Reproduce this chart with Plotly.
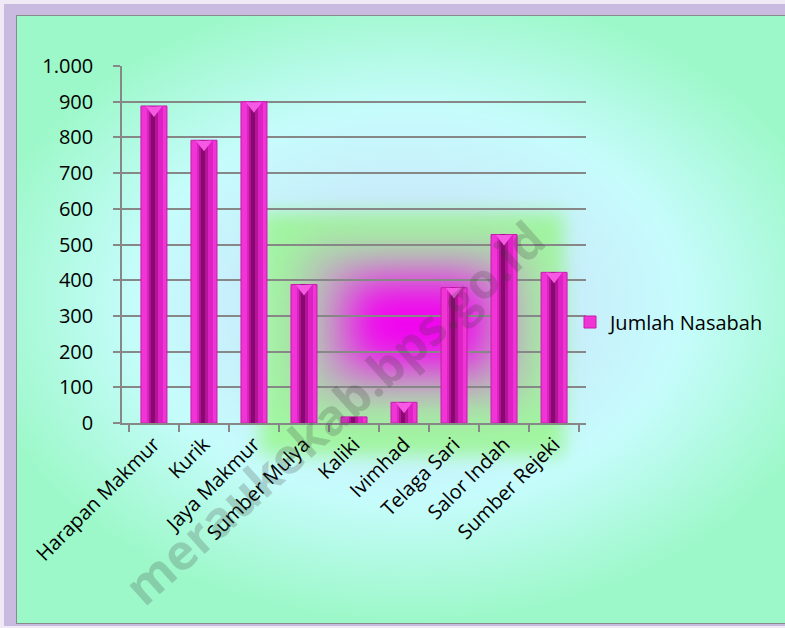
import base64
import plotly.graph_objects as go

# ---- data ----
categories = ["Harapan Makmur", "Kurik", "Jaya Makmur", "Sumber Mulya", "Kaliki",
              "Ivimhad", "Telaga Sari", "Salor Indah", "Sumber Rejeki"]
jumlah_nasabah = [888, 792, 900, 388, 17, 58, 379, 528, 422]
series_name = "Jumlah Nasabah"
y_ticks = [0, 100, 200, 300, 400, 500, 600, 700, 800, 900, 1000]
watermark = "meraukekab.bps.go.id"

# ---- geometry ----
W, H = 785, 628
ML, MR, MT, MB = 122, 199, 66, 205
PW, PH = W - ML - MR, H - MT - MB


def px_x(px):
    return (px - ML) / PW


def px_y(py):
    return (H - MB - py) / PH


# ---- background (chart area gradients) ----
svg = f'''<svg xmlns="http://www.w3.org/2000/svg" width="{W}" height="{H}" viewBox="0 0 {W} {H}">
<defs>
<radialGradient id="bg" cx="410" cy="305" r="440" gradientUnits="userSpaceOnUse"
 gradientTransform="translate(410 305) scale(1 0.72) translate(-410 -305)">
<stop offset="0" stop-color="#c9e6fa"/>
<stop offset="0.35" stop-color="#c8ecfb"/>
<stop offset="0.62" stop-color="#c6fcfc"/>
<stop offset="1" stop-color="#9cf8c8"/>
</radialGradient>
<filter id="b1" x="-50%" y="-50%" width="200%" height="200%"><feGaussianBlur stdDeviation="9"/></filter>
<filter id="b2" x="-50%" y="-50%" width="200%" height="200%"><feGaussianBlur stdDeviation="24"/></filter>
<filter id="b3" x="-50%" y="-50%" width="200%" height="200%"><feGaussianBlur stdDeviation="22"/></filter>
</defs>
<rect width="{W}" height="{H}" fill="#efeaf6"/>
<rect x="4" y="4" width="{W-4}" height="{H-6}" fill="#c9bae0"/>
<rect x="16" y="15" width="{W-16}" height="{H-19}" fill="#8a8a8a"/>
<rect x="17" y="16" width="{W-17}" height="{H-21}" fill="url(#bg)"/>
<rect x="260" y="212" width="304" height="244" fill="#a0f7a0" filter="url(#b1)"/>
<rect x="305" y="250" width="220" height="150" fill="#c4a0c4" filter="url(#b2)" opacity="0.9"/>
<rect x="350" y="282" width="135" height="84" fill="#f200f0" filter="url(#b3)"/>
</svg>'''
bg_uri = "data:image/svg+xml;base64," + base64.b64encode(svg.encode()).decode()

fig = go.Figure()

# bar body layers
fig.add_trace(go.Bar(x=categories, y=jumlah_nasabah, name=series_name, width=0.52,
                     marker=dict(color="#f034d6", line=dict(color="#c41ea8", width=1)),
                     showlegend=True))
fig.add_trace(go.Bar(x=categories, y=jumlah_nasabah, width=0.32, offset=-0.14,
                     marker=dict(color="#dc22c2", line=dict(width=0)), showlegend=False,
                     hoverinfo="skip"))
fig.add_trace(go.Bar(x=categories, y=jumlah_nasabah, width=0.18, offset=-0.1,
                     marker=dict(color="#b41498", line=dict(width=0)), showlegend=False,
                     hoverinfo="skip"))
fig.add_trace(go.Bar(x=categories, y=jumlah_nasabah, width=0.08, offset=-0.06,
                     marker=dict(color="#880a70", line=dict(width=0)), showlegend=False,
                     hoverinfo="skip"))
# top cap
cap_y = [v - 11 if v > 40 else None for v in jumlah_nasabah]
fig.add_trace(go.Scatter(x=categories, y=cap_y, mode="markers", showlegend=False,
                         hoverinfo="skip", cliponaxis=False,
                         marker=dict(symbol="triangle-down", size=14, color="#f65ae4",
                                     line=dict(width=0))))

fig.add_annotation(text=watermark, xref="paper", yref="paper", x=px_x(334), y=px_y(412),
                   xanchor="center", yanchor="middle",
                   showarrow=False, textangle=-42,
                   font=dict(family="Open Sans", size=49, color="rgba(60,60,60,0.22)",
                             weight="bold"))

fig.update_layout(
    width=W, height=H,
    margin=dict(l=ML, r=MR, t=MT, b=MB),
    paper_bgcolor="rgba(0,0,0,0)", plot_bgcolor="rgba(0,0,0,0)",
    barmode="overlay",
    separators=",.",
    font=dict(family="Open Sans", size=19, color="#000000"),
    images=[dict(source=bg_uri, xref="paper", yref="paper",
                 x=-ML / PW, y=1 + MT / PH, sizex=W / PW, sizey=H / PH,
                 xanchor="left", yanchor="top", sizing="stretch", layer="below")],
    legend=dict(x=px_x(570), y=px_y(322), xanchor="left", yanchor="middle",
                font=dict(size=20), itemwidth=30, bgcolor="rgba(0,0,0,0)"),
    xaxis=dict(type="category", showline=True, linecolor="#878787", linewidth=1.5,
               ticks="outside", tickson="boundaries", ticklen=7, tickcolor="#878787",
               tickwidth=1.5, tickangle=-45, tickfont=dict(size=20), showgrid=False),
    yaxis=dict(range=[0, 1000], tickvals=y_ticks, tickformat=",d", showline=True,
               linecolor="#878787", linewidth=1.5, ticks="outside", ticklen=7,
               tickcolor="#878787", tickwidth=1.5, showgrid=True, gridcolor="#878787",
               gridwidth=1.5, zeroline=False, tickfont=dict(size=20),
               ticklabelstandoff=16),
)

fig.write_html("out.html", config={"displayModeBar": False},
               post_script="document.body.style.margin='0';")
